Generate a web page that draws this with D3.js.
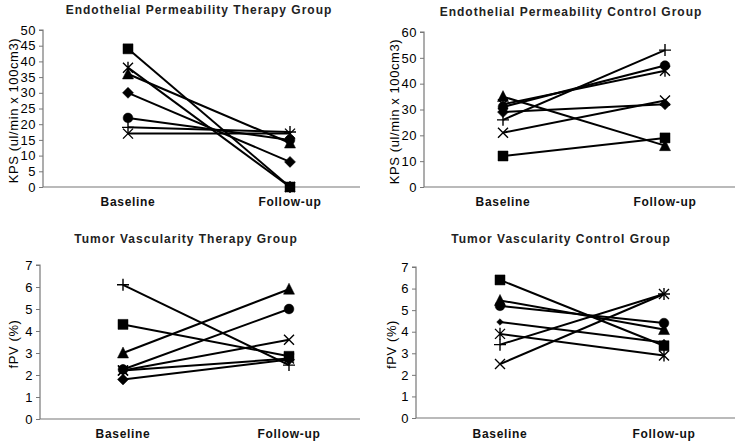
<!DOCTYPE html>
<html><head><meta charset="utf-8">
<script src="https://cdn.jsdelivr.net/npm/d3@7"></script>
<style>
body{margin:0;background:#fff;}
svg{display:block;font-family:"Liberation Sans",Arial,sans-serif;}
</style></head>
<body><svg id="c" width="750" height="445"></svg>
<script>
// ---- data ----
const categories = ["Baseline", "Follow-up"];
const markers = ["diamond", "square", "triangle", "x", "asterisk", "circle", "plus"];

const epTherapyBaseline = [30, 44, 36, 17, 38, 22, 19];
const epTherapyFollowup = [8, 0, 14, 17, 0, 15, 17.5];

const epControlBaseline = [29, 12, 35, 21, 32, 31, 26];
const epControlFollowup = [32, 19, 16, 33.5, 45, 47, 53];

const tvTherapyBaseline = [1.8, 4.3, 3.0, 2.2, 2.2, 2.25, 6.1];
const tvTherapyFollowup = [2.7, 2.85, 5.9, 3.6, 2.75, 5.0, 2.45];

const tvControlBaseline = [4.45, 6.4, 5.45, 2.5, 3.9, 5.2, 3.4];
const tvControlFollowup = [3.5, 3.35, 4.1, 5.75, 2.9, 4.4, 5.75];

const epTicks = [0, 5, 10, 15, 20, 25, 30, 35, 40, 45, 50];
const epControlTicks = [0, 10, 20, 30, 40, 50, 60];
const tvTicks = [0, 1, 2, 3, 4, 5, 6, 7];

const titles = ["Endothelial Permeability Therapy Group", "Endothelial Permeability Control Group",
                "Tumor Vascularity Therapy Group", "Tumor Vascularity Control Group"];
const yTitles = ["KPS (ul/min x 100cm3)", "KPS (ul/min x 100cm3)", "fPV (%)", "fPV (%)"];

// ---- layout ----
const panels = [
  {base: epTherapyBaseline, fol: epTherapyFollowup, ticks: epTicks, max: 50,
   axL: 43, axR: 360, cx: [128, 290], yTop: 30, yBot: 187, titleX: 199, titleY: 14, yTitleX: 13, cat: 206, dia: 1},
  {base: epControlBaseline, fol: epControlFollowup, ticks: epControlTicks, max: 60,
   axL: 424, axR: 735, cx: [503, 665], yTop: 32, yBot: 187, titleX: 571, titleY: 16, yTitleX: 394, cat: 206, dia: 1},
  {base: tvTherapyBaseline, fol: tvTherapyFollowup, ticks: tvTicks, max: 7,
   axL: 40, axR: 360, cx: [123, 289], yTop: 265, yBot: 419, titleX: 186, titleY: 243, yTitleX: 13, cat: 438, dia: 1},
  {base: tvControlBaseline, fol: tvControlFollowup, ticks: tvTicks, max: 7,
   axL: 416, axR: 735, cx: [500, 664], yTop: 267, yBot: 418, titleX: 561, titleY: 243, yTitleX: 391, cat: 438, dia: 0.6}
];

const svg = d3.select("#c");

function markerPath(type, s) {
  const r = 5;
  switch (type) {
    case "square": return `M${-r},${-r}H${r}V${r}H${-r}Z`;
    case "diamond": { const q = (r + 0.5) * s; return `M0,${-q}L${q},0L0,${q}L${-q},0Z`; }
    case "triangle": return `M0,${-r - 1}L${r + 0.5},${r}L${-r - 0.5},${r}Z`;
    case "circle": return d3.symbol(d3.symbolCircle, 75)();
    case "x": return `M${-r},${-r}L${r},${r}M${r},${-r}L${-r},${r}`;
    case "asterisk": return `M${-r},${-r}L${r},${r}M${r},${-r}L${-r},${r}M0,${-r - 1}V${r + 1}`;
    case "plus": return `M${-r - 1},0H${r + 1}M0,${-r - 1}V${r + 1}`;
  }
}
const filled = t => ["square", "diamond", "triangle", "circle"].includes(t);

panels.forEach((p, i) => {
  const g = svg.append("g");
  const y = d3.scaleLinear().domain([0, p.max]).range([p.yBot, p.yTop]);
  const x = d3.scalePoint().domain(categories).range(p.cx);

  // y axis
  const ya = g.append("g").attr("transform", `translate(${p.axL},0)`)
    .call(d3.axisLeft(y).tickValues(p.ticks).tickSize(4).tickPadding(3).tickFormat(d3.format("d")));
  ya.select(".domain").attr("stroke", "#777").attr("stroke-width", 1.2).attr("d", `M-4,${p.yTop}H0V${p.yBot}`);
  ya.selectAll(".tick line").attr("stroke", "#777");
  ya.selectAll(".tick text").attr("font-size", 13).attr("fill", "#000")
    .attr("font-family", "'Liberation Sans', Arial, sans-serif").attr("letter-spacing", 0.5);

  // x axis (line only)
  g.append("line").attr("x1", p.axL).attr("x2", p.axR).attr("y1", p.yBot).attr("y2", p.yBot)
    .attr("stroke", "#777").attr("stroke-width", 1.2);
  g.selectAll(".cat").data(categories).join("text")
    .attr("x", d => x(d)).attr("y", p.cat).attr("text-anchor", "middle")
    .attr("font-size", 12).attr("font-weight", "bold").attr("letter-spacing", 0.7).attr("fill", "#111")
    .text(d => d);

  // title
  g.append("text").attr("x", p.titleX).attr("y", p.titleY).attr("text-anchor", "middle")
    .attr("font-size", 12).attr("font-weight", "bold").attr("letter-spacing", 1).attr("fill", "#222")
    .text(titles[i]);
  // y title
  const yMid = (p.yTop + p.yBot) / 2 + 2;
  g.append("text").attr("transform", `translate(${p.yTitleX},${yMid}) rotate(-90)`)
    .attr("text-anchor", "middle").attr("dy", "0.35em")
    .attr("font-size", 13).attr("letter-spacing", 0.6).attr("fill", "#000")
    .text(yTitles[i]);

  // series
  markers.forEach((m, k) => {
    const vals = [p.base[k], p.fol[k]];
    g.append("path").datum(vals)
      .attr("d", d3.line().x((d, j) => x(categories[j])).y(d => y(d)))
      .attr("stroke", "#000").attr("stroke-width", 2).attr("fill", "none");
    g.selectAll(null).data(vals).join("path")
      .attr("transform", (d, j) => `translate(${x(categories[j])},${y(d)})`)
      .attr("d", markerPath(m, p.dia))
      .attr("fill", filled(m) ? "#000" : "none")
      .attr("stroke", "#000").attr("stroke-width", filled(m) ? 0.5 : 1.4);
  });
});
</script></body></html>
